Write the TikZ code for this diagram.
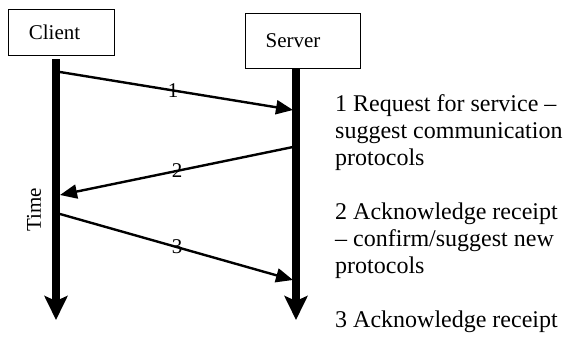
\documentclass[tikz,border=0pt]{standalone}
\usepackage{fontspec}
\setmainfont{Liberation Serif}
\usetikzlibrary{arrows.meta}
\begin{document}
\begin{tikzpicture}[x=1pt,y=-1pt,
  boxnode/.style={draw,line width=1pt,inner sep=0pt,anchor=north west,font=\fontsize{21}{24}\selectfont},
  lifeline/.style={line width=8pt,-{Stealth[length=24pt,width=23pt,inset=5pt]}},
  msg/.style={line width=2.4pt,-{Triangle[length=17pt,width=14pt]}},
  msglabel/.style={font=\fontsize{21}{24}\selectfont,inner sep=0pt},
  note/.style={font=\fontsize{24}{27}\selectfont,align=left,inner sep=0pt,anchor=base west}]
\useasboundingbox (0,0) rectangle (563,341);
\node[boxnode,minimum width=106pt,minimum height=46pt] (client) at (8,9) {\hspace*{-14pt}Client};
\node[boxnode,minimum width=115pt,minimum height=55pt] (server) at (245,13) {\hspace*{-20pt}\raisebox{-3pt}{Server}};
\coordinate (ctop) at (56,59);
\coordinate (cbot) at (56,320);
\coordinate (stop) at (296,68);
\coordinate (sbot) at (296,320);
\draw[lifeline] (ctop) -- (cbot);
\draw[lifeline] (stop) -- (sbot);
\coordinate (a1s) at (60,72);
\coordinate (a1e) at (293,110);
\coordinate (a2s) at (293,147);
\coordinate (a2e) at (60,195);
\coordinate (a3s) at (60,214);
\coordinate (a3e) at (293,280);
\draw[msg] (a1s) -- (a1e);
\draw[msg] (a2s) -- (a2e);
\draw[msg] (a3s) -- (a3e);
\node[msglabel] (l1) at (173,91) {1};
\node[msglabel] (l2) at (177,171) {2};
\node[msglabel] (l3) at (177,247) {3};
\node[msglabel,rotate=90] (time) at (34,210) {Time};
\node[note] (n1) at (335,165) {1 Request for service –\\suggest communication\\protocols};
\node[note] (n2) at (335,273) {2 Acknowledge receipt\\– confirm/suggest new\\protocols};
\node[note] (n3) at (335,327) {3 Acknowledge receipt};
\end{tikzpicture}
\end{document}
